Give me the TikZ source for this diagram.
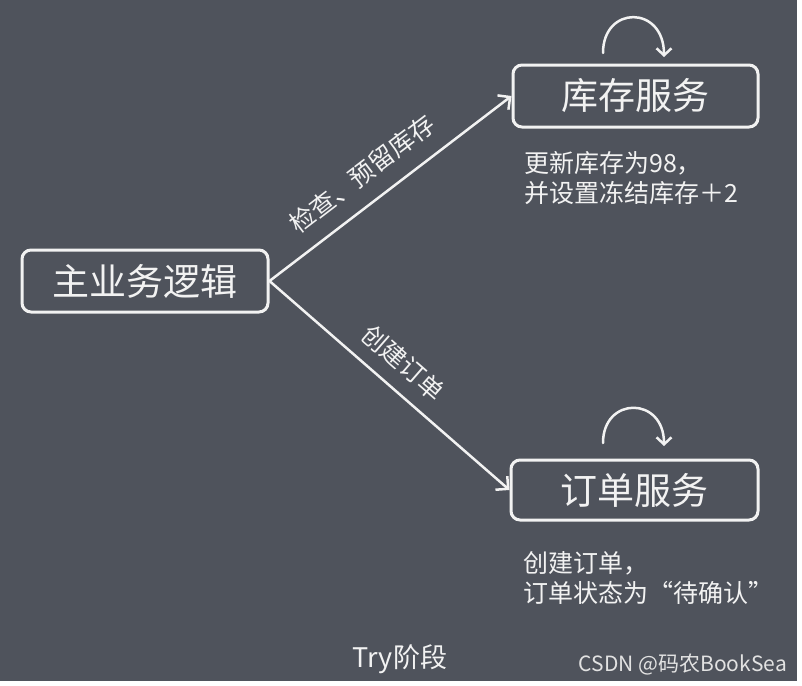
\documentclass[tikz,border=0pt]{standalone}
\usepackage{fontspec}
\setmainfont{Noto Sans CJK SC}
\usetikzlibrary{arrows.meta}
\definecolor{bg}{HTML}{4F535C}
\definecolor{fg}{HTML}{F2F2F2}
\definecolor{wm}{HTML}{E2E2E2}
\begin{document}
\begin{tikzpicture}[x=1pt,y=-1pt,
  box/.style={draw=fg, line width=3pt, rounded corners=9pt, text=fg,
    font=\fontsize{37}{44}\selectfont, inner sep=0pt},
  conn/.style={draw=fg, line width=2.5pt, line cap=round,
    -{Straight Barb[length=9pt,width=18pt]}},
  loopc/.style={draw=fg, line width=2.5pt, line cap=round,
    -{Straight Barb[length=7pt,width=15pt]}},
  lbl/.style={text=fg, font=\fontsize{25}{30}\selectfont, inner sep=0pt},
  note/.style={text=fg, font=\fontsize{25}{30}\selectfont, inner sep=0pt, anchor=base west}]
\fill[white] (0,0) rectangle (802,685);
\fill[bg] (0,0) rectangle (797,681);
\useasboundingbox (0,0) rectangle (802,685);

\node[box, minimum width=246pt, minimum height=62pt] (main) at (145,281) {主业务逻辑};
\node[box, minimum width=245pt, minimum height=62pt] (stock) at (635.5,96) {库存服务};
\node[box, minimum width=247pt, minimum height=60pt] (order) at (634.5,490) {订单服务};

\draw[conn] (main.east) -- (stock.west)
  node[lbl, pos=0.455, sloped, above=16pt] (lblA) {检查、预留库存};
\draw[conn] (main.east) -- (order.west)
  node[lbl, pos=0.486, sloped, above=13.5pt] (lblB) {创建订单};

\coordinate (sA) at (603,53);
\coordinate (sB) at (664,57);
\draw[loopc] (sA) .. controls (603,5) and (664,5) .. (sB);
\coordinate (oA) at (603,443);
\coordinate (oB) at (664,446);
\draw[loopc] (oA) .. controls (603,396) and (664,396) .. (oB);

\node[note] (stockNoteA) at (524,172) {更新库存为98，};
\node[note] (stockNoteB) at (524,202) {并设置冻结库存＋2};
\node[note] (orderNoteA) at (523,572) {创建订单，};
\node[note] (orderNoteB) at (523,602) {订单状态为“待确认”};

\node[text=fg, font=\fontsize{27}{32}\selectfont, inner sep=0pt, anchor=base] (stage) at (400,667) {Try阶段};
\node[text=wm, font=\fontsize{21}{25}\selectfont, inner sep=0pt, anchor=base east] (mark) at (787,671) {CSDN @码农BookSea};
\end{tikzpicture}
\end{document}
